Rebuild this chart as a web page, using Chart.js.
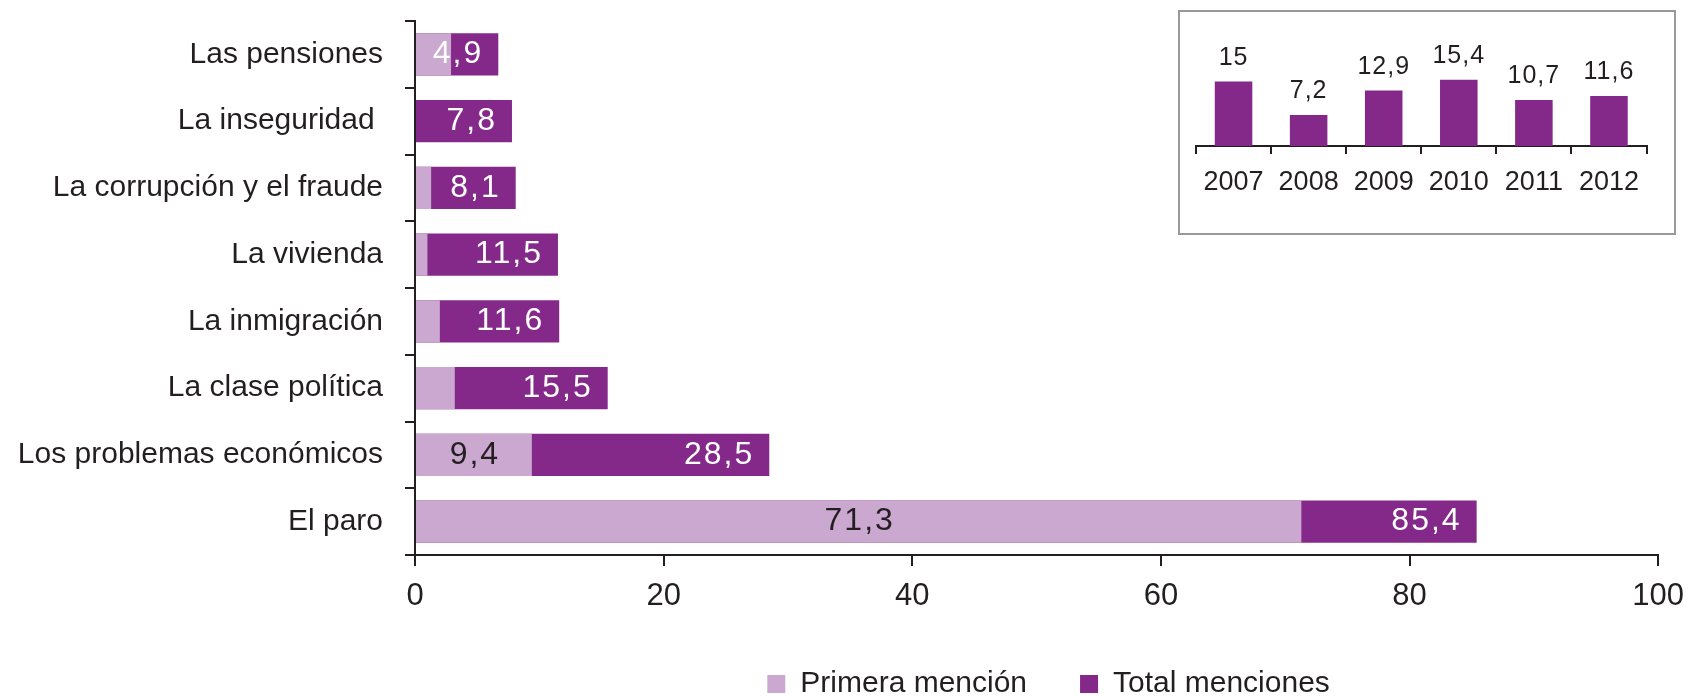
<!DOCTYPE html>
<html lang="es">
<head>
<meta charset="utf-8">
<title>Principales problemas</title>
<script src="https://cdn.jsdelivr.net/npm/chart.js@4.4.1/dist/chart.umd.min.js"></script>
<style>
  html, body { margin: 0; padding: 0; background: #fff; overflow: hidden; }
  #wrap { position: relative; width: 1696px; height: 720px; }
  #main { position: absolute; left: 0; top: 0; width: 1696px; height: 720px; }
  #inset { position: absolute; left: 1178px; top: 10px; width: 498px; height: 225px; }
</style>
</head>
<body>
<div id="wrap">
  <div id="main"><canvas id="chartMain"></canvas></div>
  <div id="inset"><canvas id="chartInset"></canvas></div>
</div>
<script>
// Problemas, de arriba abajo
const problemas = [
    'Las pensiones',
    'La inseguridad ',
    'La corrupción y el fraude',
    'La vivienda',
    'La inmigración',
    'La clase política',
    'Los problemas económicos',
    'El paro'
];
const primeraMencion = [2.9, 0, 1.3, 1.0, 2.0, 3.2, 9.4, 71.3];
const totalMenciones = [6.7, 7.8, 8.1, 11.5, 11.6, 15.5, 28.5, 85.4];
// etiquetas tal como aparecen en el original
const etiquetasTotal = ['4,9', '7,8', '8,1', '11,5', '11,6', '15,5', '28,5', '85,4'];
const ticksX = [0, 20, 40, 60, 80, 100];

// Recuadro: evolución anual
const anios = ['2007', '2008', '2009', '2010', '2011', '2012'];
const serieAnual = [15, 7.2, 12.9, 15.4, 10.7, 11.6];

const TXT = '#231F20';
const MORADO = '#84288A';
const LILA = '#CBA8CF';
const FUENTE = "'Liberation Sans', Arial, sans-serif";

Chart.defaults.font.family = FUENTE;
Chart.defaults.color = TXT;

const fmt = (v) => String(v).replace('.', ',');

// Valores dentro de las barras
const etiquetasBarras = {
    id: 'etiquetasBarras',
    afterDatasetsDraw(chart) {
        const ctx = chart.ctx;
        ctx.save();
        ctx.font = '32px ' + FUENTE;
        ctx.letterSpacing = '2px';
        ctx.textBaseline = 'middle';
        chart.getDatasetMeta(1).data.forEach((bar, i) => {
            ctx.fillStyle = '#fff';
            ctx.textAlign = 'right';
            ctx.fillText(etiquetasTotal[i], bar.x - 15, bar.y);
        });
        chart.getDatasetMeta(0).data.forEach((bar, i) => {
            if (primeraMencion[i] < 5) return;
            ctx.fillStyle = TXT;
            ctx.textAlign = 'center';
            ctx.fillText(fmt(primeraMencion[i]), (bar.x + bar.base) / 2 + 1, bar.y);
        });
        ctx.restore();
    }
};

// Desplaza la leyenda un poco a la derecha, como en el original
const moverLeyenda = {
    id: 'moverLeyenda',
    afterLayout(chart) {
        if (!chart.legend) return;
        chart.legend.left += 12;
        chart.legend.right += 12;
    }
};

new Chart(document.getElementById('chartMain'), {
    type: 'bar',
    data: {
        labels: problemas,
        datasets: [
            { label: 'Primera mención', data: primeraMencion, backgroundColor: LILA },
            { label: 'Total menciones', data: totalMenciones, backgroundColor: MORADO }
        ]
    },
    options: {
        indexAxis: 'y',
        responsive: true,
        maintainAspectRatio: false,
        animation: false,
        datasets: {
            bar: { grouped: false, barPercentage: 0.63, categoryPercentage: 1, borderWidth: 0 }
        },
        layout: { padding: { left: 0, right: 34, top: 21, bottom: 11 } },
        plugins: {
            tooltip: { enabled: false },
            legend: {
                position: 'bottom',
                fullSize: false,
                labels: {
                    boxWidth: 18,
                    boxHeight: 18,
                    padding: 53,
                    color: TXT,
                    font: { size: 30 }
                }
            }
        },
        scales: {
            x: {
                min: 0,
                max: 100,
                afterBuildTicks: (s) => { s.ticks = ticksX.map(v => ({ value: v })); },
                afterFit: (s) => { s.height = 61; },
                grid: { drawOnChartArea: false, tickLength: 11, color: TXT, lineWidth: 2 },
                border: { color: TXT, width: 2 },
                ticks: { color: TXT, font: { size: 31 }, padding: 12 }
            },
            y: {
                afterFit: (s) => { s.width = 415; s.paddingTop = 0; s.paddingBottom = 0; },
                grid: { offset: true, drawOnChartArea: false, tickLength: 10, color: TXT, lineWidth: 2 },
                border: { color: TXT, width: 2 },
                ticks: { color: TXT, font: { size: 30 }, padding: 22 }
            }
        }
    },
    plugins: [etiquetasBarras, moverLeyenda]
});

// Marco gris del recuadro
const marco = {
    id: 'marco',
    beforeDraw(chart) {
        const ctx = chart.ctx;
        ctx.save();
        ctx.strokeStyle = '#999';
        ctx.lineWidth = 2;
        ctx.strokeRect(1, 1, chart.width - 2, chart.height - 2);
        ctx.restore();
    }
};

// Valores sobre las barras del recuadro
const etiquetasAnuales = {
    id: 'etiquetasAnuales',
    afterDatasetsDraw(chart) {
        const ctx = chart.ctx;
        ctx.save();
        ctx.font = '25px ' + FUENTE;
        ctx.letterSpacing = '1px';
        ctx.fillStyle = TXT;
        ctx.textAlign = 'center';
        ctx.textBaseline = 'alphabetic';
        chart.getDatasetMeta(0).data.forEach((bar, i) => {
            ctx.fillText(fmt(serieAnual[i]), bar.x, bar.y - 17);
        });
        ctx.restore();
    }
};

new Chart(document.getElementById('chartInset'), {
    type: 'bar',
    data: {
        labels: anios,
        datasets: [{
            data: serieAnual,
            backgroundColor: MORADO,
            borderWidth: 0,
            barPercentage: 0.5,
            categoryPercentage: 1
        }]
    },
    options: {
        responsive: true,
        maintainAspectRatio: false,
        animation: false,
        layout: { padding: { left: 18, right: 29.5, top: 50, bottom: 0 } },
        plugins: { legend: { display: false }, tooltip: { enabled: false } },
        scales: {
            y: { display: false, min: 0, max: 20 },
            x: {
                afterFit: (s) => { s.height = 89; },
                grid: { offset: true, drawOnChartArea: false, tickLength: 8, color: TXT, lineWidth: 2 },
                border: { color: TXT, width: 2 },
                ticks: { color: TXT, font: { size: 27 }, padding: 12 }
            }
        }
    },
    plugins: [marco, etiquetasAnuales]
});
</script>
</body>
</html>
